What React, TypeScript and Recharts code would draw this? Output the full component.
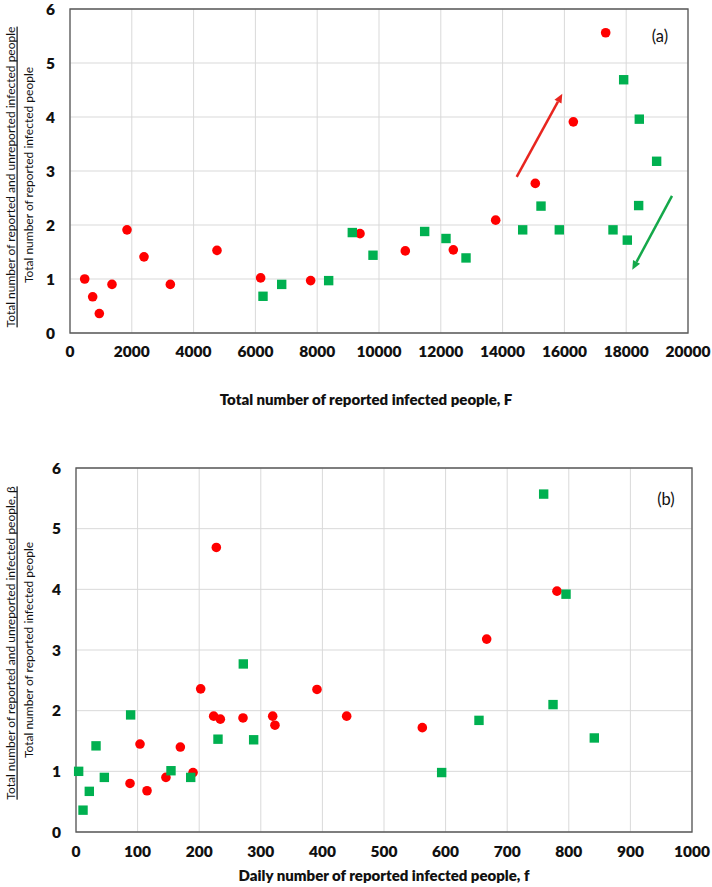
import React from "react";
import {
  ScatterChart,
  Scatter,
  XAxis,
  YAxis,
  CartesianGrid,
  ReferenceArea,
  ReferenceLine,
} from "recharts";

// ---------- Data: panel (a) ----------
const aRedF = [475, 734, 949, 1359, 1845, 2395, 3247, 4757, 6170, 7788, 9385, 10851, 12405, 13776, 15058, 16289, 17336];
const aRedBeta = [1.0, 0.67, 0.36, 0.9, 1.91, 1.41, 0.9, 1.53, 1.02, 0.97, 1.84, 1.52, 1.54, 2.09, 2.77, 3.91, 5.56];
const aGreenF = [6246, 6851, 8371, 9136, 9806, 11478, 12168, 12816, 14650, 15243, 15835, 17573, 17918, 18036, 18424, 18403, 18985];
const aGreenBeta = [0.68, 0.9, 0.97, 1.86, 1.44, 1.88, 1.75, 1.39, 1.91, 2.35, 1.91, 1.91, 4.69, 1.72, 3.96, 2.36, 3.18];
const aXTicks = [0, 2000, 4000, 6000, 8000, 10000, 12000, 14000, 16000, 18000, 20000];
// trend arrows (from -> to)
const aRedArrow = [{ x: 14456, y: 2.89 }, { x: 15932, y: 4.43 }];
const aGreenArrow = [{ x: 19482, y: 2.54 }, { x: 18197, y: 1.17 }];

// ---------- Data: panel (b) ----------
const bRedF = [87.7, 103.9, 115.3, 146, 169.4, 190, 202.4, 223.5, 227.8, 234.3, 271.1, 319.3, 323, 391.2, 439.4, 562.2, 666.7, 780.8];
const bRedBeta = [0.8, 1.45, 0.68, 0.9, 1.4, 0.98, 2.36, 1.91, 4.69, 1.86, 1.88, 1.91, 1.76, 2.35, 1.91, 1.72, 3.18, 3.97];
const bGreenF = [4.3, 11.4, 21.6, 32.5, 46, 88.7, 154.2, 186.2, 230.5, 271.6, 288.4, 593.6, 654.2, 759.2, 774.4, 795.5, 841.4];
const bGreenBeta = [1.0, 0.36, 0.67, 1.42, 0.9, 1.93, 1.01, 0.9, 1.53, 2.77, 1.52, 0.98, 1.84, 5.57, 2.1, 3.92, 1.55];
const bXTicks = [0, 100, 200, 300, 400, 500, 600, 700, 800, 900, 1000];

const yTicks = [0, 1, 2, 3, 4, 5, 6];

const zip = (xs: number[], ys: number[]) => xs.map((x, i) => ({ x, y: ys[i] }));

const RED = "#FF0000";
const GREEN = "#00B050";
const FONT = "Lato, 'Liberation Sans', sans-serif";
const INK = "#111";

const RedDot = (p: any) => <circle cx={p.cx} cy={p.cy} r={4.8} fill={RED} />;
const GreenSquare = (p: any) => (
  <rect x={p.cx - 4.7} y={p.cy - 4.7} width={9.4} height={9.4} fill={GREEN} />
);

const makeArrow = (color: string) => (p: any) => {
  const { x1, y1, x2, y2 } = p;
  const ang = Math.atan2(y2 - y1, x2 - x1);
  const L = 9;
  const W = 4;
  const bx = x2 - L * Math.cos(ang);
  const by = y2 - L * Math.sin(ang);
  const px = -Math.sin(ang) * W;
  const py = Math.cos(ang) * W;
  return (
    <g>
      <line x1={x1} y1={y1} x2={bx} y2={by} stroke={color} strokeWidth={2.5} />
      <polygon points={`${x2},${y2} ${bx + px},${by + py} ${bx - px},${by - py}`} fill={color} />
    </g>
  );
};

const tickStyle = { fontFamily: FONT, fontWeight: 800, fontSize: 15.5, fill: INK };

export default function App() {
  return (
    <div style={{ position: "absolute", left: 0, top: 0, width: 712, height: 887, background: "#fff" }}>
      <div style={{ position: "absolute", left: 0, top: 0 }}>
        <ScatterChart width={712} height={420} margin={{ top: 9, right: 24, bottom: 57, left: 40 }}>
          <CartesianGrid stroke="#D9D9D9" strokeWidth={1} />
          <XAxis
            type="number"
            dataKey="x"
            domain={[0, 20000]}
            ticks={aXTicks}
            height={30}
            tickLine={false}
            axisLine={false}
            tickSize={0}
            tickMargin={13}
            tick={tickStyle}
            interval={0}
          />
          <YAxis
            type="number"
            dataKey="y"
            domain={[0, 6]}
            ticks={yTicks}
            width={30}
            tickLine={false}
            axisLine={false}
            tickSize={0}
            tickMargin={15}
            tick={tickStyle}
            interval={0}
          />
          <ReferenceArea x1={0} x2={20000} y1={0} y2={6} fill="none" stroke="#595959" strokeWidth={1.3} fillOpacity={0} />
          <Scatter data={zip(aRedF, aRedBeta)} shape={RedDot} isAnimationActive={false} />
          <Scatter data={zip(aGreenF, aGreenBeta)} shape={GreenSquare} isAnimationActive={false} />
          <ReferenceLine segment={aRedArrow} shape={makeArrow("#E8251F")} ifOverflow="visible" />
          <ReferenceLine segment={aGreenArrow} shape={makeArrow("#14A84A")} ifOverflow="visible" />
          <text x={660} y={42} textAnchor="middle" fontFamily={FONT} fontSize={16.5} fill={INK}>(a)</text>
          <text
            x={10}
            y={177}
            transform="rotate(-90, 10, 177)"
            textAnchor="middle"
            dominantBaseline="central"
            fontFamily={FONT}
            fontSize={12}
            fill={INK}
            textDecoration="underline"
          >
            Total number of reported and unreported infected people
          </text>
          <text
            x={28}
            y={175}
            transform="rotate(-90, 28, 175)"
            textAnchor="middle"
            dominantBaseline="central"
            fontFamily={FONT}
            fontSize={12}
            fill={INK}
          >
            Total number of reported infected people
          </text>
          <text x={366} y={405} textAnchor="middle" fontFamily={FONT} fontWeight={800} fontSize={15} fill={INK}>
            Total number of reported infected people, F
          </text>
        </ScatterChart>
      </div>
      <div style={{ position: "absolute", left: 0, top: 440 }}>
        <ScatterChart width={712} height={447} margin={{ top: 28, right: 20, bottom: 25, left: 46 }}>
          <CartesianGrid stroke="#D9D9D9" strokeWidth={1} />
          <XAxis
            type="number"
            dataKey="x"
            domain={[0, 1000]}
            ticks={bXTicks}
            height={30}
            tickLine={false}
            axisLine={false}
            tickSize={0}
            tickMargin={14}
            tick={tickStyle}
            interval={0}
          />
          <YAxis
            type="number"
            dataKey="y"
            domain={[0, 6]}
            ticks={yTicks}
            width={30}
            tickLine={false}
            axisLine={false}
            tickSize={0}
            tickMargin={15}
            tick={tickStyle}
            interval={0}
          />
          <ReferenceArea x1={0} x2={1000} y1={0} y2={6} fill="none" stroke="#595959" strokeWidth={1.3} fillOpacity={0} />
          <Scatter data={zip(bRedF, bRedBeta)} shape={RedDot} isAnimationActive={false} />
          <Scatter data={zip(bGreenF, bGreenBeta)} shape={GreenSquare} isAnimationActive={false} />
          <text x={666} y={65} textAnchor="middle" fontFamily={FONT} fontSize={16.5} fill={INK}>(b)</text>
          <text
            x={10}
            y={203}
            transform="rotate(-90, 10, 203)"
            textAnchor="middle"
            dominantBaseline="central"
            fontFamily={FONT}
            fontSize={12}
            fill={INK}
            textDecoration="underline"
          >
            Total number of reported and unreported infected people, β
          </text>
          <text
            x={28}
            y={210}
            transform="rotate(-90, 28, 210)"
            textAnchor="middle"
            dominantBaseline="central"
            fontFamily={FONT}
            fontSize={12}
            fill={INK}
          >
            Total number of reported infected people
          </text>
          <text x={384} y={441} textAnchor="middle" fontFamily={FONT} fontWeight={800} fontSize={15} fill={INK}>
            Daily number of reported infected people, f
          </text>
        </ScatterChart>
      </div>
    </div>
  );
}
